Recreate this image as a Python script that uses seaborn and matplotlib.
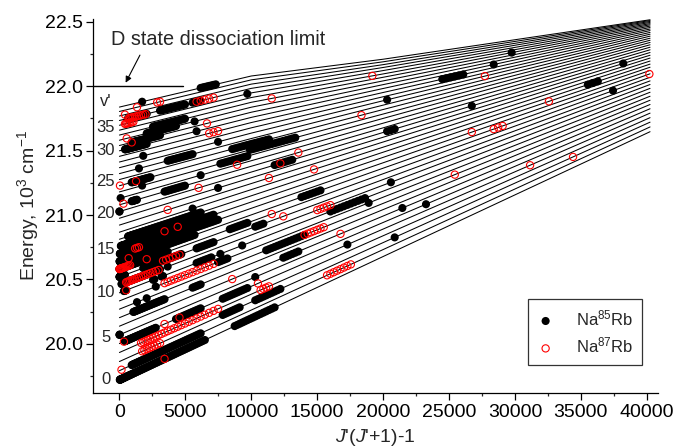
import numpy as np
import pandas as pd
import matplotlib
matplotlib.use("Agg")
import matplotlib.pyplot as plt
import seaborn as sns
from matplotlib.ticker import MultipleLocator, FormatStrFormatter

# ---------------- data ----------------
# rovibrational level curves E_v(x), x = J'(J'+1)-1, energy in 10^3 cm^-1
LINE_X = [0, 10000, 20000, 40250]
E_AT_0 = [19.721, 19.793, 19.864, 19.934, 20.003, 20.071, 20.138, 20.204, 20.270, 20.334,
          20.397, 20.459, 20.520, 20.581, 20.640, 20.698, 20.756, 20.812, 20.867, 20.922,
          20.975, 21.027, 21.079, 21.129, 21.179, 21.227, 21.275, 21.321, 21.367, 21.411,
          21.455, 21.498, 21.539, 21.580, 21.620, 21.658, 21.696, 21.733, 21.768, 21.803, 21.837]
E_AT_10K = [20.199, 20.263, 20.325, 20.386, 20.447, 20.506, 20.565, 20.623, 20.680, 20.736,
            20.791, 20.845, 20.898, 20.950, 21.001, 21.052, 21.101, 21.149, 21.197, 21.244,
            21.289, 21.333, 21.378, 21.421, 21.465, 21.508, 21.551, 21.593, 21.635, 21.676,
            21.717, 21.757, 21.797, 21.836, 21.874, 21.911, 21.947, 21.982, 22.015, 22.048, 22.078]
E_AT_20K = [20.678, 20.732, 20.786, 20.839, 20.891, 20.942, 20.992, 21.042, 21.090, 21.138,
            21.185, 21.231, 21.275, 21.320, 21.363, 21.405, 21.447, 21.487, 21.526, 21.566,
            21.603, 21.640, 21.676, 21.712, 21.749, 21.783, 21.818, 21.852, 21.886, 21.917,
            21.950, 21.981, 22.011, 22.040, 22.068, 22.094, 22.120, 22.144, 22.166, 22.188, 22.208]
E_AT_END = [21.646, 21.683, 21.720, 21.755, 21.790, 21.824, 21.857, 21.890, 21.921, 21.952,
            21.982, 22.012, 22.040, 22.068, 22.095, 22.121, 22.146, 22.170, 22.194, 22.217,
            22.239, 22.260, 22.281, 22.301, 22.320, 22.338, 22.355, 22.371, 22.387, 22.402,
            22.416, 22.430, 22.442, 22.454, 22.465, 22.475, 22.484, 22.493, 22.501, 22.508, 22.514]

# observed levels: (v', J' first, J' last)
NA85_RUNS = [
    (0, 5, 80), (1, 30, 78), (4, 20, 52), (4, 65, 78), (5, 2, 4),
    (7, 32, 58), (8, 36, 36), (8, 45, 45), (7, 74, 78),
    (10, 18, 22), (11, 12, 55), (12, 2, 20), (13, 2, 60), (12, 42, 68),
    (10, 50, 51), (10, 56, 57), (9, 52, 52), (11, 60, 60),
    (12, 76, 84), (10, 76, 83), (10, 87, 87),
    (14, 3, 75), (15, 5, 86), (16, 10, 84), (17, 25, 78), (18, 74, 74),
    (21, 0, 1), (23, 9, 9), (22, 30, 36), (25, 30, 48), (24, 41, 41), (27, 38, 38),
    (29, 42, 42), (27, 60, 74),
    (31, 20, 45), (32, 30, 55), (33, 45, 65), (34, 50, 70),
    (37, 25, 45), (37, 55, 70), (40, 41, 41), (20, 86, 86), (28, 86, 86), (40, 78, 85),
    (33, 75, 75), (31, 76, 76), (37, 74, 78), (36, 98, 98),
    (24, 87, 98), (26, 92, 106), (25, 99, 115),
    (21, 108, 114), (23, 78, 78), (14, 117, 123), (12, 101, 104), (13, 91, 98),
    (8, 105, 118), (10, 96, 96), (6, 111, 116), (9, 86, 90), (5, 101, 101),
    (2, 101, 110), (4, 88, 98), (2, 88, 95), (0, 93, 108),
    (22, 58, 70), (30, 156, 161), (31, 168, 168), (34, 172, 172), (28, 142, 142),
    (21, 142, 144), (21, 163, 163), (13, 193, 193), (20, 195, 195), (17, 188, 190),
    (11, 143, 143), (10, 126, 136), (9, 137, 137), (6, 146, 146), (5, 152, 152),
    (4, 131, 131), (2, 144, 144),
]
NA87_RUNS = [
    (1, 12, 12), (2, 41, 55), (3, 40, 86), (0, 58, 58), (4, 58, 58), (4, 67, 67), (4, 18, 18),
    (10, 22, 22), (11, 22, 54), (13, 2, 28), (14, 26, 26), (15, 34, 38), (13, 45, 45),
    (12, 57, 67), (9, 58, 85),
    (22, 17, 17), (25, 6, 6), (25, 35, 35), (39, 36, 36), (39, 53, 56), (38, 20, 20),
    (37, 26, 45), (36, 20, 32), (33, 23, 23), (32, 30, 30),
    (21, 77, 77), (32, 81, 81), (30, 82, 87), (37, 76, 84), (34, 107, 107),
    (26, 135, 135), (35, 138, 138),
    (21, 110, 110), (22, 116, 116), (23, 94, 94), (18, 121, 121), (19, 106, 106),
    (11, 122, 126), (13, 107, 107), (12, 111, 111), (8, 118, 124), (16, 58, 58),
    (16, 66, 66), (19, 60, 60),
    (6, 92, 92), (4, 102, 102), (3, 103, 106), (6, 129, 129), (1, 125, 132),
    (8, 159, 159), (4, 176, 176), (2, 185, 185),
    (28, 166, 166), (16, 180, 180), (15, 163, 163), (14, 168, 170), (14, 200, 200),
]

V_LABELS = ["v'", "35", "30", "25", "20", "15", "10", "5", "0"]
V_LABEL_E = [21.878, 21.677, 21.498, 21.258, 21.008, 20.736, 20.403, 20.047, 19.721]
V_LABEL_X = -1024
DISSOC_E = 22.0
DISSOC_X_END = 4800
X_LIM = (-2030, 40850)
Y_LIM = (19.62, 22.52)

# ---------------- build tables ----------------
levels = np.array([E_AT_0, E_AT_10K, E_AT_20K, E_AT_END]).T
lines_df = pd.DataFrame(
    [(v, x, levels[v][k]) for v in range(len(E_AT_0)) for k, x in enumerate(LINE_X)],
    columns=["v", "x", "E"])


def runs_to_df(runs, sparse):
    rows = []
    for v, j0, j1 in runs:
        step = 2 if (sparse and j0 < 100) else 1
        for J in range(j0, j1 + 1, step):
            x = J * (J + 1) - 1
            rows.append((v, J, x, np.interp(x, LINE_X, levels[v])))
    return pd.DataFrame(rows, columns=["v", "J", "x", "E"])


df85 = runs_to_df(NA85_RUNS, False)
df87 = runs_to_df(NA87_RUNS, True)

# ---------------- style ----------------
sns.set_theme(style="ticks")
plt.rcParams["font.family"] = ["Liberation Sans", "DejaVu Sans"]
plt.rcParams["mathtext.fontset"] = "custom"
plt.rcParams["mathtext.rm"] = "Liberation Sans"
plt.rcParams["mathtext.it"] = "Liberation Sans:italic"
plt.rcParams["mathtext.bf"] = "Liberation Sans:bold"

fig = plt.figure(figsize=(6.74, 4.48), dpi=100)
ax = fig.add_axes([0.1375, 0.1228, 0.8387, 0.8348])

sns.lineplot(data=lines_df, x="x", y="E", units="v", estimator=None, sort=False,
             color="black", lw=0.75, ax=ax, legend=False)
sns.scatterplot(data=df85, x="x", y="E", color="black", s=34, marker="o",
                edgecolor="none", ax=ax, label="Na$^{85}$Rb", zorder=3)
sns.scatterplot(data=df87, x="x", y="E", s=27, marker="o", ax=ax,
                label="Na$^{87}$Rb", zorder=4)
red = ax.collections[-1]
red.set_facecolor("none")
red.set_edgecolor("red")
red.set_linewidth(0.8)

# dissociation limit
ax.plot([X_LIM[0], DISSOC_X_END], [DISSOC_E, DISSOC_E], color="black", lw=1.0)
ax.text(-668, 22.364, "D state dissociation limit", ha="left", va="center", fontsize=14.3)
ax.annotate("", xy=(470, 22.026), xytext=(1555, 22.24),
            arrowprops=dict(arrowstyle="-|>", color="black", lw=0.8,
                            shrinkA=0, shrinkB=0, mutation_scale=9))

for lab, e in zip(V_LABELS, V_LABEL_E):
    ax.text(V_LABEL_X, e, lab, ha="center", va="center", fontsize=12)

ax.set_xlim(*X_LIM)
ax.set_ylim(*Y_LIM)
ax.xaxis.set_major_locator(MultipleLocator(5000))
ax.xaxis.set_minor_locator(MultipleLocator(2500))
ax.yaxis.set_major_locator(MultipleLocator(0.5))
ax.yaxis.set_minor_locator(MultipleLocator(0.25))
ax.yaxis.set_major_formatter(FormatStrFormatter("%.1f"))
ax.tick_params(which="major", direction="out", length=5, width=0.9, labelsize=14,
               colors="black")
ax.tick_params(axis="y", which="major", pad=2)
ax.tick_params(axis="x", which="major", pad=3)
ax.tick_params(which="minor", direction="out", length=2.5, width=0.9)
sns.despine(ax=ax)
for s in ("left", "bottom"):
    ax.spines[s].set_linewidth(0.9)
    ax.spines[s].set_color("black")

ax.set_xlabel("$J$'($J$'+1)-1", fontsize=14, labelpad=4)
ax.set_ylabel("Energy, 10$^3$ cm$^{-1}$", fontsize=14, labelpad=3)

leg = ax.legend(loc="lower right", bbox_to_anchor=(0.972, 0.075), frameon=True,
                fancybox=False, edgecolor="black", fontsize=12, borderpad=0.55,
                labelspacing=0.45, handlelength=1.0, handletextpad=1.3,
                borderaxespad=0)
leg.get_frame().set_linewidth(0.9)

fig.savefig("out.png", dpi=100)
